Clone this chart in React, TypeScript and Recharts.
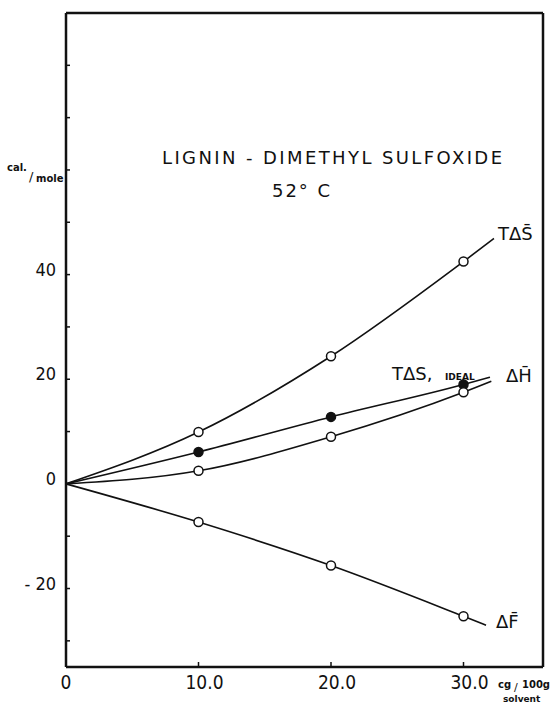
import { Line, LineChart, XAxis, YAxis } from 'recharts';

// concentration, cg per 100 g solvent
const concentration = [0, 10, 20, 30];
const measuredAt = [10, 20, 30];

// cal./mole at each concentration
const tdsPartial = [0, 9.9, 24.4, 42.5];
const tdsIdeal = [0, 6.1, 12.8, 19.0];
const dhPartial = [0, 2.5, 9.0, 17.5];
const dfPartial = [0, -7.3, -15.6, -25.3];

// where each hand-drawn curve runs out past the last point
const curveEndX = [32.3, 32.0, 32.1, 31.7];
const curveEndY = [46.9, 20.4, 19.6, -27.0];

const xTicks = [0, 10, 20, 30];
const xTickLabels = ['0', '10.0', '20.0', '30.0'];
const frameXTicks = [10, 20, 30];
const yTicks = [-30, -20, -10, 0, 10, 20, 30, 40, 50, 60, 70, 80];
const yLabelled = [-20, 0, 20, 40];

const FONT = "'DejaVu Sans', sans-serif";
const NARROW = "'DejaVu Sans Condensed', 'DejaVu Sans', sans-serif";
const INK = '#111';

type Pt = { x: number; y: number };

function buildCurve(values: number[], i: number): Pt[] {
  const pts = concentration.map((x, j) => ({ x, y: values[j] }));
  pts.push({ x: curveEndX[i], y: curveEndY[i] });
  return pts;
}

const series = [
  { key: 'tdsPartial', data: buildCurve(tdsPartial, 0), filled: false },
  { key: 'tdsIdeal', data: buildCurve(tdsIdeal, 1), filled: true },
  { key: 'dhPartial', data: buildCurve(dhPartial, 2), filled: false },
  { key: 'dfPartial', data: buildCurve(dfPartial, 3), filled: false },
];

const makeDot = (filled: boolean) => (props: any) => {
  const { cx, cy, payload, index } = props;
  if (!measuredAt.includes(payload.x)) return <g key={index} />;
  return (
    <circle
      key={index}
      cx={cx}
      cy={cy}
      r={4.5}
      fill={filled ? INK : '#fff'}
      stroke={INK}
      strokeWidth={1.5}
    />
  );
};

const LeftTick = (props: any) => {
  const { x, y, payload } = props;
  const v = payload.value as number;
  return (
    <g>
      {v !== 0 && <line x1={x} x2={x + 4} y1={y} y2={y} stroke={INK} strokeWidth={1.5} />}
      {yLabelled.includes(v) && (
        <text
          x={x - 10}
          y={y - 4}
          textAnchor="end"
          dominantBaseline="middle"
          fontSize={18}
          fontFamily={NARROW}
          fill={INK}
        >
          {v < 0 ? `- ${Math.abs(v)}` : String(v)}
        </text>
      )}
    </g>
  );
};

const RightTick = (props: any) => {
  const { x, y } = props;
  return <line x1={x} x2={x - 4} y1={y} y2={y} stroke={INK} strokeWidth={1.5} />;
};

const BottomTick = (props: any) => {
  const { x, y, payload, index } = props;
  return (
    <g>
      {payload.value > 0 && (
        <line x1={x} x2={x} y1={y} y2={y - 5} stroke={INK} strokeWidth={1.5} />
      )}
      <text
        x={x + (payload.value > 0 ? 6 : 0)}
        y={y + 16}
        textAnchor="middle"
        dominantBaseline="middle"
        fontSize={19}
        fontFamily={NARROW}
        fill={INK}
      >
        {xTickLabels[index]}
      </text>
    </g>
  );
};

const TopTick = (props: any) => {
  const { x, y } = props;
  return <line x1={x} x2={x} y1={y} y2={y + 5} stroke={INK} strokeWidth={1.5} />;
};

const frame = { stroke: INK, strokeWidth: 2.5 };

export default function App() {
  return (
    <div style={{ position: 'absolute', left: 0, top: 0, width: 559, height: 705, background: '#fff' }}>
      <LineChart
        width={559}
        height={705}
        margin={{ top: 12, right: 15, bottom: 37, left: 65 }}
      >
        <XAxis
          xAxisId="bottom"
          type="number"
          dataKey="x"
          domain={[0, 36]}
          ticks={xTicks}
          height={1}
          tickSize={0}
          tickMargin={0}
          tickLine={false}
          axisLine={frame}
          tick={BottomTick}
          interval={0}
        />
        <XAxis
          xAxisId="top"
          orientation="top"
          type="number"
          dataKey="x"
          domain={[0, 36]}
          ticks={frameXTicks}
          height={1}
          tickSize={0}
          tickMargin={0}
          tickLine={false}
          axisLine={frame}
          tick={TopTick}
          interval={0}
        />
        <YAxis
          yAxisId="left"
          type="number"
          domain={[-35, 90]}
          ticks={yTicks}
          width={1}
          tickSize={0}
          tickMargin={0}
          tickLine={false}
          axisLine={frame}
          tick={LeftTick}
          interval={0}
        />
        <YAxis
          yAxisId="right"
          orientation="right"
          type="number"
          domain={[-35, 90]}
          ticks={yTicks}
          width={1}
          tickSize={0}
          tickMargin={0}
          tickLine={false}
          axisLine={frame}
          tick={RightTick}
          interval={0}
        />
        {series.map((s) => (
          <Line
            key={s.key}
            xAxisId="bottom"
            yAxisId="left"
            data={s.data}
            dataKey="y"
            type="monotone"
            stroke={INK}
            strokeWidth={1.6}
            dot={makeDot(s.filled)}
            activeDot={false}
            isAnimationActive={false}
          />
        ))}
      </LineChart>

      <svg
        width={559}
        height={705}
        style={{ position: 'absolute', left: 0, top: 0, pointerEvents: 'none' }}
        fontFamily={FONT}
        fill={INK}
      >
        <text x={162} y={164} fontSize={18} textLength={340} lengthAdjust="spacing">
          LIGNIN - DIMETHYL SULFOXIDE
        </text>
        <text x={272} y={197} fontSize={18} textLength={58} lengthAdjust="spacing">
          52° C
        </text>

        <text x={7} y={171} fontSize={10} fontWeight="bold">cal.</text>
        <text x={29} y={181} fontSize={13}>/</text>
        <text x={36} y={182} fontSize={10} fontWeight="bold">mole</text>

        <text x={498} y={688} fontSize={10} fontWeight="bold">cg</text>
        <text x={514} y={691} fontSize={11}>/</text>
        <text x={522} y={688} fontSize={10} fontWeight="bold">100g</text>
        <text x={503} y={702} fontSize={9} fontWeight="bold">solvent</text>

        <text x={498} y={240} fontSize={18}>
          {'T\u0394S\u0304'}
        </text>
        <text x={392} y={380} fontSize={18}>
          {'T\u0394S,'}
        </text>
        <text x={445} y={380} fontSize={9} fontWeight="bold">IDEAL</text>
        <text x={506} y={382} fontSize={18}>
          {'\u0394H\u0304'}
        </text>
        <text x={496} y={628} fontSize={18}>
          {'\u0394F\u0304'}
        </text>
      </svg>
    </div>
  );
}
